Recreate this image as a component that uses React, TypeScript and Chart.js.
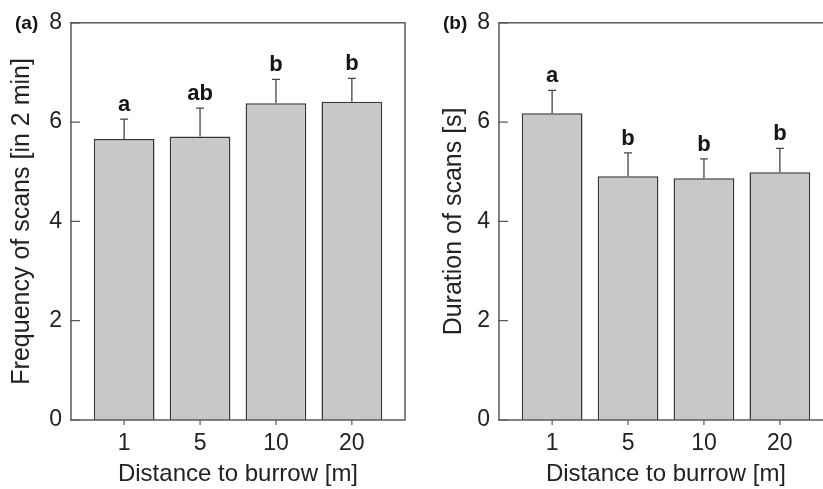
import React, { useEffect, useRef } from "react";
import { Chart, registerables } from "chart.js";

Chart.register(...registerables);

const FONT = '"Liberation Sans", Arial, Helvetica, sans-serif';

const categories = ["1", "5", "10", "20"];
const yTicks = [0, 2, 4, 6, 8];

const freqMeans = [5.66, 5.71, 6.38, 6.41];
const freqUpper = [6.06, 6.28, 6.86, 6.88];
const freqLetters = ["a", "ab", "b", "b"];

const durMeans = [6.18, 4.91, 4.87, 4.99];
const durUpper = [6.64, 5.38, 5.26, 5.47];
const durLetters = ["a", "b", "b", "b"];

const xTitle = "Distance to burrow [m]";
const freqTitle = "Frequency of scans [in 2 min]";
const durTitle = "Duration of scans [s]";

type PanelProps = {
  means: number[];
  upper: number[];
  letters: string[];
  yTitle: string;
  label: string;
  titlePad: number;
};

function Panel({ means, upper, letters, yTitle, label, titlePad }: PanelProps) {
  const ref = useRef<HTMLCanvasElement | null>(null);

  useEffect(() => {
    if (!ref.current) return;
    const decor = {
      id: "decor",
      afterDatasetsDraw(chart: any) {
        const { ctx, chartArea, scales } = chart;
        const { left, right, top, bottom } = chartArea;
        const x = scales.x;
        const y = scales.y;
        ctx.save();
        // error bars + letters
        means.forEach((m, i) => {
          const px = x.getPixelForValue(i);
          const y0 = y.getPixelForValue(m);
          const y1 = y.getPixelForValue(upper[i]);
          ctx.strokeStyle = "#444";
          ctx.lineWidth = 1.3;
          ctx.beginPath();
          ctx.moveTo(px, y0);
          ctx.lineTo(px, y1);
          ctx.moveTo(px - 4, y1);
          ctx.lineTo(px + 4, y1);
          ctx.stroke();
          ctx.fillStyle = "#151515";
          ctx.font = `bold 22px ${FONT}`;
          ctx.textAlign = "center";
          ctx.textBaseline = "alphabetic";
          ctx.fillText(letters[i], px, y1 - 8);
        });
        // frame
        ctx.strokeStyle = "#5a5a5a";
        ctx.lineWidth = 1.5;
        ctx.strokeRect(left, top, right - left, bottom - top);
        // y ticks inward
        ctx.beginPath();
        yTicks.forEach((v) => {
          const py = y.getPixelForValue(v);
          ctx.moveTo(left - 1, py);
          ctx.lineTo(left + 9, py);
        });
        // x ticks outward
        categories.forEach((_, i) => {
          const px = x.getPixelForValue(i);
          ctx.moveTo(px, bottom);
          ctx.lineTo(px, bottom + 5);
        });
        ctx.lineWidth = 1.2;
        ctx.stroke();
        // panel label
        ctx.fillStyle = "#151515";
        ctx.font = `bold 19px ${FONT}`;
        ctx.textAlign = "left";
        ctx.textBaseline = "alphabetic";
        ctx.fillText(label, 15, 29);
        ctx.restore();
      },
    };

    const chart = new Chart(ref.current, {
      type: "bar",
      data: {
        datasets: [
          {
            data: means.map((v, i) => ({ x: i, y: v })),
            backgroundColor: "#c7c8ca",
            borderColor: "#363636",
            borderWidth: 1.5,
            barPercentage: 1,
            categoryPercentage: 0.8,
          },
        ],
      },
      options: {
        animation: false,
        responsive: false,
        devicePixelRatio: 1,
        layout: { padding: { left: 0, top: 21, right: 15, bottom: 0 } },
        plugins: {
          legend: { display: false },
          tooltip: { enabled: false },
          title: { display: false },
        },
        scales: {
          x: {
            type: "linear",
            min: -0.7,
            max: 3.7,
            offset: false,
            grid: { display: false, drawTicks: false, offset: false },
            border: { display: false },
            afterBuildTicks: (scale: any) => {
              scale.ticks = categories.map((_, i) => ({ value: i }));
            },
            afterFit: (scale: any) => {
              scale.height = 69;
            },
            ticks: {
              padding: 10,
              color: "#222",
              font: { family: FONT, size: 23 },
              autoSkip: false,
              maxRotation: 0,
              callback: (v: any) => categories[Math.round(Number(v))] ?? "",
            },
            title: {
              display: true,
              text: xTitle,
              color: "#222",
              font: { family: FONT, size: 24 },
              padding: { top: 0, bottom: 0 },
            },
          },
          y: {
            min: 0,
            max: 8,
            grid: { display: false, drawTicks: false },
            border: { display: false },
            afterBuildTicks: (scale: any) => {
              scale.ticks = yTicks.map((v) => ({ value: v }));
            },
            afterFit: (scale: any) => {
              scale.width = 71;
            },
            ticks: {
              padding: 9,
              color: "#222",
              font: { family: FONT, size: 23 },
              callback: (v: any) => String(v),
            },
            title: {
              display: true,
              text: yTitle,
              color: "#222",
              font: { family: FONT, size: 25 },
              padding: { top: titlePad, bottom: 0 },
            },
          },
        },
      },
      plugins: [decor],
    } as any);

    return () => chart.destroy();
  }, [means, upper, letters, yTitle, label, titlePad]);

  return <canvas ref={ref} width={420} height={489} style={{ display: "block" }} />;
}

export default function App() {
  return (
    <div
      style={{
        position: "fixed",
        left: 0,
        top: 0,
        width: 823,
        height: 489,
        overflow: "hidden",
        background: "#ffffff",
      }}
    >
      <div style={{ position: "absolute", left: 0, top: 0 }}>
        <Panel
          means={freqMeans}
          upper={freqUpper}
          letters={freqLetters}
          yTitle={freqTitle}
          label="(a)"
          titlePad={7}
        />
      </div>
      <div style={{ position: "absolute", left: 428, top: 0 }}>
        <Panel
          means={durMeans}
          upper={durUpper}
          letters={durLetters}
          yTitle={durTitle}
          label="(b)"
          titlePad={11}
        />
      </div>
    </div>
  );
}
